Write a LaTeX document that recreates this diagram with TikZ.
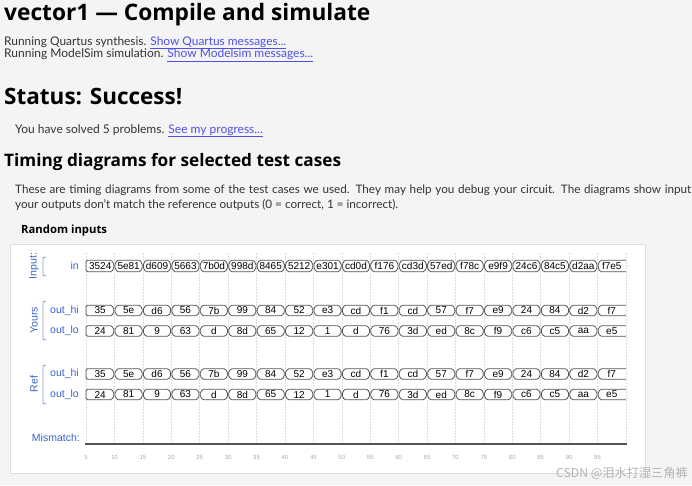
\documentclass[tikz,border=0pt]{standalone}
\usepackage{fontspec}
\setmainfont{Lato}
\newfontfamily\headfont{Open Sans}
\newfontfamily\arialfont{Liberation Sans}
\newfontfamily\cjkfont{Noto Sans CJK SC}
\definecolor{bg}{HTML}{F4F4F4}
\definecolor{txt}{HTML}{333333}
\definecolor{linkc}{HTML}{5050E6}
\definecolor{sigblue}{HTML}{3B64C8}
\definecolor{brk}{HTML}{7A9BE0}
\definecolor{gridc}{HTML}{DDDDDD}
\definecolor{busc}{HTML}{555555}
\definecolor{axc}{HTML}{AAAAAA}
\tikzset{
  txtnode/.style={inner sep=0pt, anchor=base west, text=txt},
  headnode/.style={inner sep=0pt, anchor=base west, text=black, font=\headfont\bfseries},
  busline/.style={draw=busc, line width=0.8pt, rounded corners=1.5pt},
  val/.style={inner sep=0pt, font=\arialfont\fontsize{10}{12}\selectfont, text=black},
  siglbl/.style={inner sep=0pt, anchor=east, font=\arialfont\fontsize{10.5}{12}\selectfont, text=sigblue},
  grplbl/.style={inner sep=0pt, rotate=90, font=\arialfont\fontsize{10.5}{12}\selectfont, text=sigblue},
  bracket/.style={draw=brk, line width=0.8pt},
  gridline/.style={draw=gridc, dashed, dash pattern=on 1.5pt off 1.5pt, line width=0.5pt},
  axlbl/.style={inner sep=0pt, font=\arialfont\fontsize{6}{7}\selectfont, text=axc},
}
\newcommand\lnk[1]{\textcolor{linkc}{\underline{#1}}}
\newcommand\busrow[3]{%
  \foreach \v [count=\i] in {#3} {%
    \pgfmathsetmacro\xa{86+(\i-1)*28.42}%
    \pgfmathsetmacro\xb{\xa+28.42}%
    \ifnum\i=1
      \draw[busline] (\xa,#1-#2) -- (\xb-2.5,#1-#2) -- (\xb,#1) -- (\xb-2.5,#1+#2) -- (\xa,#1+#2) -- cycle;
    \else\ifnum\i=19
      \draw[busline] (\xb,#1-#2) -- (\xa+2.5,#1-#2) -- (\xa,#1) -- (\xa+2.5,#1+#2) -- (\xb,#1+#2);
    \else
      \draw[busline] (\xa,#1) -- (\xa+2.5,#1-#2) -- (\xb-2.5,#1-#2) -- (\xb,#1) -- (\xb-2.5,#1+#2) -- (\xa+2.5,#1+#2) -- cycle;
    \fi\fi
    \node[val] at ({(\xa+\xb)/2},#1) {\v};
  }%
}
\newcommand\brkt[3]{% x, top, bottom
  \draw[bracket] (#1+3,#2) .. controls (#1,#2) .. (#1,#2+4) -- (#1,#3-4) .. controls (#1,#3) .. (#1+3,#3);
}
\begin{document}
\begin{tikzpicture}[x=1pt,y=-1pt]
\useasboundingbox (0,0) rectangle (692,485);
\fill[bg] (0,0) rectangle (692,485);
% header
\node[headnode, font=\headfont\bfseries\fontsize{22.7}{26}\selectfont] (title) at (4,20) {vector1 — Compile and simulate};
\node[txtnode, font=\fontsize{11.9}{14}\selectfont] (run1) at (4,45) {Running Quartus synthesis. \lnk{Show Quartus messages...}};
\node[txtnode, font=\fontsize{12}{14}\selectfont] (run2) at (4,57.5) {Running ModelSim simulation. \lnk{Show Modelsim messages...}};
\node[headnode, font=\headfont\bfseries\fontsize{22.5}{26}\selectfont] (status) at (4,104) {Status: Success!};
\node[txtnode, font=\fontsize{12}{14}\selectfont] (solved) at (15,133) {You have solved 5 problems. \lnk{See my progress...}};
\node[headnode, font=\headfont\bfseries\fontsize{17.2}{20}\selectfont] (timing) at (4,166) {Timing diagrams for selected test cases};
\node[txtnode, font=\fontsize{11.7}{13}\selectfont] (para1) at (15,193.5) {\makebox[676pt][s]{These are timing diagrams from some of the test cases we used. They may help you debug your circuit. The diagrams show input}};
\node[txtnode, font=\fontsize{11.7}{13}\selectfont] (para2) at (15,208.5) {your outputs don't match the reference outputs (0 = correct, 1 = incorrect).};
\node[headnode, font=\headfont\bfseries\fontsize{11.3}{13}\selectfont] (random) at (21,233) {Random inputs};
% panel
\draw[draw=gridc, fill=white] (10,244) rectangle (645,473);
\foreach \k in {0,...,19} {
  \draw[gridline] ({86+\k*28.42},253) -- ({86+\k*28.42},443);
}
% group labels and brackets
\node[grplbl] (gin) at (34,266) {Input:};
\brkt{43}{257}{276}
\node[grplbl] (gyours) at (34,320) {Yours};
\brkt{43}{301}{340}
\node[grplbl] (gref) at (34,384) {Ref};
\brkt{43}{365}{404}
% signal labels
\node[siglbl] (lin) at (79,266) {in};
\node[siglbl] (lyhi) at (79,310.5) {out\_hi};
\node[siglbl] (lylo) at (79,331) {out\_lo};
\node[siglbl] (lrhi) at (79,374) {out\_hi};
\node[siglbl] (lrlo) at (79,394.5) {out\_lo};
\node[siglbl] (lmis) at (80,437.5) {Mismatch:};
% buses
\busrow{266}{5.8}{3524,5e81,d609,5663,7b0d,998d,8465,5212,e301,cd0d,f176,cd3d,57ed,f78c,e9f9,24c6,84c5,d2aa,f7e5}
\busrow{310.5}{5.3}{35,5e,d6,56,7b,99,84,52,e3,cd,f1,cd,57,f7,e9,24,84,d2,f7}
\busrow{331}{5.3}{24,81,9,63,d,8d,65,12,1,d,76,3d,ed,8c,f9,c6,c5,aa,e5}
\busrow{374}{5.3}{35,5e,d6,56,7b,99,84,52,e3,cd,f1,cd,57,f7,e9,24,84,d2,f7}
\busrow{394.5}{5.3}{24,81,9,63,d,8d,65,12,1,d,76,3d,ed,8c,f9,c6,c5,aa,e5}
% mismatch
\coordinate (m0) at (85,444);
\coordinate (m1) at (627,444);
\draw[draw=busc, line width=1.1pt] (m0) -- (m1);
\foreach \t in {5,10,...,95} {
  \node[axlbl] at ({86+(\t-5)*5.684},457) {\t};
}
% watermark
\node[inner sep=0pt, anchor=base east, text=black!30, font=\cjkfont\fontsize{12.2}{14}\selectfont] (wm) at (688,477) {CSDN @泪水打湿三角裤};
\end{tikzpicture}
\end{document}
